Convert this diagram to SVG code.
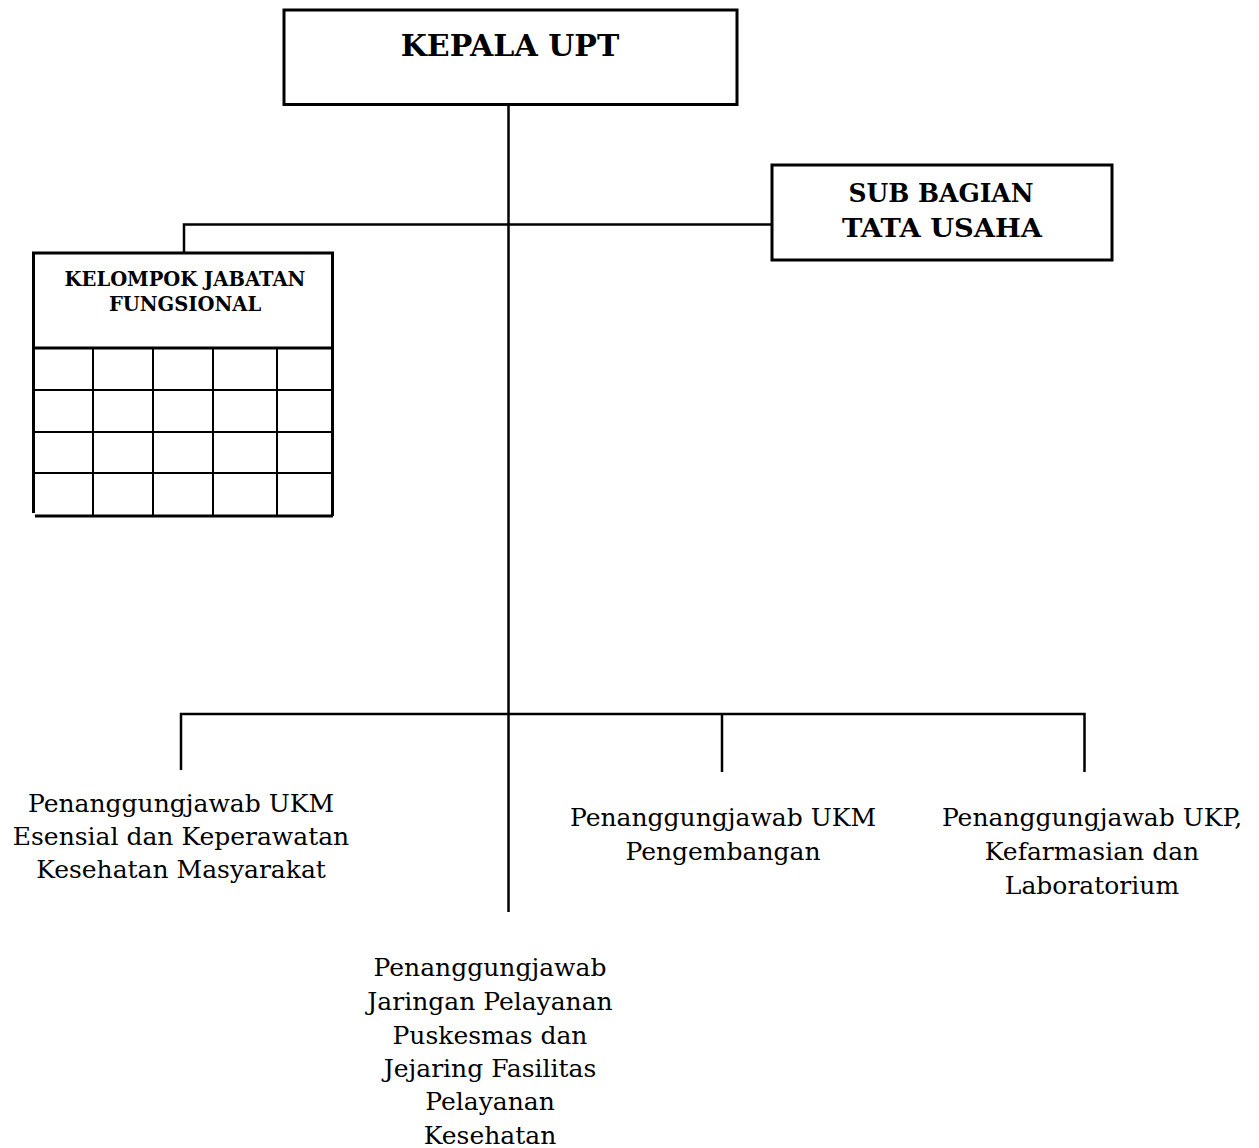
<svg xmlns="http://www.w3.org/2000/svg" width="1259" height="1148" viewBox="0 0 1259 1148">
<style>
.box{fill:#fff;stroke:#000;stroke-width:3}
.ln{fill:none;stroke:#000;stroke-width:2.5}
.grid{fill:none;stroke:#000;stroke-width:2}
.thick{fill:none;stroke:#000;stroke-width:3}
.tb{font-family:"DejaVu Serif","Liberation Serif",serif;font-weight:bold;text-anchor:middle;fill:#000}
.tn{font-family:"DejaVu Serif","Liberation Serif",serif;font-size:25px;text-anchor:middle;fill:#000}
</style>
<rect width="1259" height="1148" fill="#fff"/>
<g id="connectors">
<path class="ln" d="M508.5 105 V912"/>
<path class="ln" d="M184 253 V224.5 H772"/>
<path class="ln" d="M181 770 V714 H1084.5 V772"/>
<path class="ln" d="M722 714 V772"/>
</g>
<g id="kepala">
<rect class="box" x="284" y="10" width="453" height="94.5"/>
<text class="tb" x="510" y="56" font-size="30">KEPALA UPT</text>
</g>
<g id="subbagian">
<rect class="box" x="772" y="165" width="340" height="95" stroke-width="2.5"/>
<text class="tb" x="941" y="202" font-size="25.5" textLength="185" lengthAdjust="spacingAndGlyphs">SUB BAGIAN</text>
<text class="tb" x="942" y="237" font-size="25.5" textLength="200" lengthAdjust="spacingAndGlyphs">TATA USAHA</text>
</g>
<g id="kjf">
<rect x="33" y="253" width="300" height="95" fill="#fff"/>
<path class="grid" d="M35 390 H333 M35 432 H333 M35 473 H333 M93 348 V516 M153 348 V516 M213 348 V516 M277 348 V516"/>
<path class="thick" d="M33.5 513 V253 H332.5 V516 M33.5 348 H332.5 M35 516 H333"/>
<text class="tb" x="185" y="286" font-size="19.5">KELOMPOK JABATAN</text>
<text class="tb" x="185" y="311" font-size="19.5">FUNGSIONAL</text>
</g>
<g id="ukm-esensial">
<text class="tn" x="181" y="812">Penanggungjawab UKM</text>
<text class="tn" x="181" y="845">Esensial dan Keperawatan</text>
<text class="tn" x="181" y="878">Kesehatan Masyarakat</text>
</g>
<g id="ukm-pengembangan">
<text class="tn" x="723" y="826">Penanggungjawab UKM</text>
<text class="tn" x="723" y="860">Pengembangan</text>
</g>
<g id="ukp">
<text class="tn" x="1092" y="826">Penanggungjawab UKP,</text>
<text class="tn" x="1092" y="860">Kefarmasian dan</text>
<text class="tn" x="1092" y="894">Laboratorium</text>
</g>
<g id="jaringan">
<text class="tn" x="490" y="976">Penanggungjawab</text>
<text class="tn" x="490" y="1010">Jaringan Pelayanan</text>
<text class="tn" x="490" y="1044">Puskesmas dan</text>
<text class="tn" x="490" y="1077">Jejaring Fasilitas</text>
<text class="tn" x="490" y="1110">Pelayanan</text>
<text class="tn" x="490" y="1144">Kesehatan</text>
</g>
</svg>
